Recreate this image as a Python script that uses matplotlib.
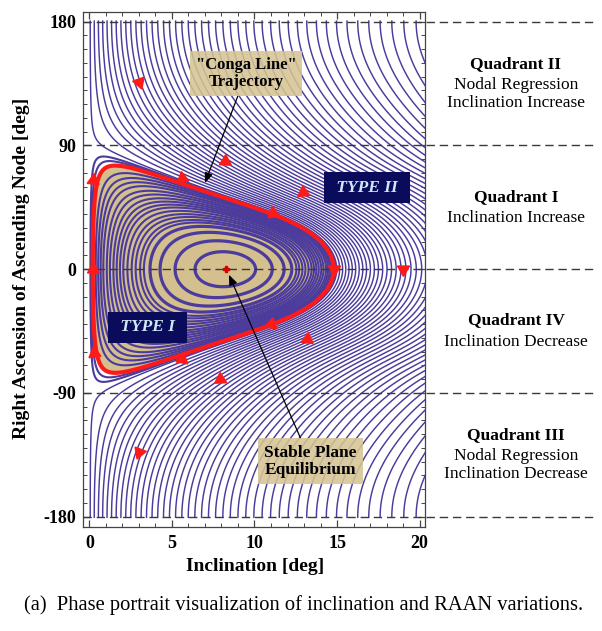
import numpy as np
import matplotlib
matplotlib.use("Agg")
import matplotlib.pyplot as plt

# ---- values ----
I_EQ = 8.3            # stable plane equilibrium inclination [deg]
RAAN_EQ = 0.0         # stable plane equilibrium RAAN [deg]
CONGA_I_MIN = 0.2     # conga-line crossing of RAAN = 0 (inner)
CONGA_I_MAX = 14.8    # conga-line crossing of RAAN = 0 (outer)
ASYM_SCALE = 12.0     # softening scale of the phase-portrait asymmetry

# inner (TYPE I) trajectories: inclination where they cross RAAN = 0 on the left side
oval_left_i = [6.4, 5.19, 4.28, 3.67, 3.3, 3.07, 2.8, 2.56, 2.3, 2.05, 1.85, 1.65,
               1.45, 1.24, 1.05, 0.84, 0.68, 0.53, 0.38]
# TYPE I trajectories lying between the conga line and i = 0
edge_i = [0.12, 0.06]

x_ticks = [0, 5, 10, 15, 20]
y_ticks = [-180, -90, 0, 90, 180]
y_tick_labels = ["-180", "-90", "0", "90", "180"]
quadrant_bounds = [180, 90, 0, -90, -180]
quadrant_centres = [135, 45, -45, -135]
quadrant_titles = ["Quadrant II", "Quadrant I", "Quadrant IV", "Quadrant III"]
quadrant_desc = [["Nodal Regression", "Inclination Increase"],
                 ["Inclination Increase"],
                 ["Inclination Decrease"],
                 ["Nodal Regression", "Inclination Decrease"]]

arrow_incl = [3.0, 8.2, 5.6, 11.1, 0.2, 0.2, 12.95, 14.8, 19.0, 11.0, 5.6, 0.3, 7.9, 13.2, 3.0]
arrow_raan = [136, 79, 66, 41, 65, 0, 56, 0, 0, -40, -65, -61, -80, -51, -133]

# ---- phase-portrait model ----
def g(d):
    return d**3 / (1 + (d / ASYM_SCALE)**2)

def gp(d):
    u = (d / ASYM_SCALE)**2
    return d**2 * (3 + u) / (1 + u)**2

d1 = CONGA_I_MIN - I_EQ
d2 = CONGA_I_MAX - I_EQ
EPS = (d1**2 - d2**2) / (g(d2) - g(d1))

def ham(i, om_deg):
    om = np.radians(om_deg - RAAN_EQ)
    x = i * np.cos(om); y = i * np.sin(om)
    d = x - I_EQ
    return d**2 + y**2 + EPS * g(d)

def field(i, om_deg):
    om = np.radians(om_deg - RAAN_EQ)
    x = i * np.cos(om); y = i * np.sin(om)
    d = x - I_EQ
    dHdx = 2 * d + EPS * gp(d)
    dHdy = 2 * y
    xd = dHdy
    yd = -dHdx
    di = (x * xd + y * yd) / i
    dom = np.degrees((x * yd - y * xd) / i**2)
    return di, dom

serif = ["Liberation Serif", "DejaVu Serif"]
plt.rcParams["font.family"] = serif

# ---- figure ----
W, H = 602, 631
fig = plt.figure(figsize=(W / 100, H / 100), dpi=100)
ax_l, ax_r, ax_t, ax_b = 83, 425, 11.7, 526.7
ax = fig.add_axes([ax_l / W, 1 - ax_b / H, (ax_r - ax_l) / W, (ax_b - ax_t) / H])
XLIM = (-0.39, 20.33)
YLIM = (-187.3, 187.3)
ax.set_xlim(*XLIM)
ax.set_ylim(*YLIM)

LINE_C = "#4b3b9c"
TAN = "#d4bf8e"
RED = "#ff1a1a"

gi = np.linspace(0.0005, 20.4, 900)
go = np.linspace(-181, 181, 1100)
GI, GO = np.meshgrid(gi, go)
HH = ham(GI, GO)
H_RED = ham(CONGA_I_MIN, RAAN_EQ)
ax.contourf(GI, GO, HH, levels=[HH.min() - 1, H_RED], colors=[TAN], zorder=1)

# TYPE I trajectories
lv_in = sorted(ham(np.array(oval_left_i + edge_i), RAAN_EQ))
lw_in = [2.3 if k < 4 else 1.5 for k in range(len(lv_in))]
ax.contour(GI, GO, HH, levels=lv_in, colors=[LINE_C], linewidths=lw_in, zorder=2)

# TYPE II trajectories: spacing of the family grows outward
s = np.sqrt(ham(0.0005, RAAN_EQ)) + 0.04
lv_out = []
s_max = np.sqrt(HH.max())
while s < s_max:
    lv_out.append(s**2)
    s += 0.2 + 0.03 * (s - 7.2)
ax.contour(GI, GO, HH, levels=lv_out, colors=[LINE_C], linewidths=1.05, zorder=2)

ax.contour(GI, GO, HH, levels=[H_RED], colors=[RED], linewidths=3.0, zorder=4)

# dashed quadrant lines extending beyond the frame
x_far = XLIM[0] + (597 - ax_l) / (ax_r - ax_l) * (XLIM[1] - XLIM[0])
for yb in quadrant_bounds:
    ax.plot([XLIM[0], x_far], [yb, yb], color="#3a3a3a", lw=1.0,
            dashes=(6, 3.5), clip_on=False, zorder=3)

# equilibrium point
ax.plot([I_EQ], [RAAN_EQ], marker="P", ms=5, color="#d40000", mec="#d40000", zorder=6)

# red direction arrows (direction from the flow field)
fig.canvas.draw()
for ai, ao in zip(arrow_incl, arrow_raan):
    du, dv = field(np.array(ai), np.array(ao))
    n = np.hypot(du, dv)
    p0 = ax.transData.transform((ai, ao))
    p1 = ax.transData.transform((ai + 0.05 * du / n, ao + 0.05 * dv / n))
    ang = np.degrees(np.arctan2(p1[1] - p0[1], p1[0] - p0[0]))
    ax.plot([ai], [ao], marker=(3, 0, ang - 90), ms=10, color=RED, mec=RED,
            zorder=5, clip_on=False)

# ticks
ax.set_xticks(x_ticks)
ax.set_xticks(np.arange(0, 21, 1), minor=True)
ax.set_yticks(y_ticks)
ax.set_yticklabels(y_tick_labels)
ax.set_yticks(np.arange(-180, 181, 10), minor=True)
ax.tick_params(which="both", direction="in", top=True, right=True, color="#444444")
ax.tick_params(which="major", length=5, width=0.9, labelsize=13, pad=5)
ax.tick_params(which="minor", length=2.8, width=0.7)
ax.tick_params(axis="x", which="major", pad=6)
for lab in ax.get_xticklabels() + ax.get_yticklabels():
    lab.set_fontweight("bold")
    lab.set_family(serif)
for sp in ax.spines.values():
    sp.set_color("#444444")
    sp.set_linewidth(0.9)

# labels
fig.text(255 / W, 1 - 566.7 / H, "Inclination [deg]", ha="center", va="center",
         fontsize=14, fontweight="bold")
fig.text(22 / W, 1 - 268 / H, "Right Ascension of Ascending Node [deg]", ha="center",
         va="center", rotation=90, fontsize=14, fontweight="bold")
fig.text(304 / W, 1 - 605 / H,
         "(a)  Phase portrait visualization of inclination and RAAN variations.",
         ha="center", va="center", fontsize=14.8)

# quadrant descriptions
x_q = XLIM[0] + (516 - ax_l) / (ax_r - ax_l) * (XLIM[1] - XLIM[0])
PX = 72 / 100
for yc, title, desc in zip(quadrant_centres, quadrant_titles, quadrant_desc):
    offs = [0] + [-(21 + 18 * k) for k in range(len(desc))]
    mid = (offs[0] + offs[-1]) / 2
    texts = [title] + desc
    for k, (t, o) in enumerate(zip(texts, offs)):
        ax.annotate(t, xy=(x_q, yc), xytext=(0, (o - mid) * PX), textcoords="offset points",
                    ha="center", va="center", fontsize=12.5,
                    fontweight="bold" if k == 0 else "normal", annotation_clip=False)

# callouts
box_tan = dict(boxstyle="square,pad=0.35", fc="#d6c493", ec="none", alpha=0.88)
ax.annotate('"Conga Line"\nTrajectory', xy=(7.0, 62.7), xytext=(9.5, 142.2),
            ha="center", va="center", fontsize=12, fontweight="bold", bbox=box_tan,
            linespacing=1.1, zorder=7,
            arrowprops=dict(arrowstyle="-|>,head_length=0.5,head_width=0.2", color="black",
                            lw=0.9, shrinkA=0, shrinkB=0))
ax.annotate("Stable Plane\nEquilibrium", xy=(8.45, -4.0), xytext=(13.4, -139.6),
            ha="center", va="center", fontsize=12.5, fontweight="bold", bbox=box_tan,
            linespacing=1.1, zorder=7,
            arrowprops=dict(arrowstyle="-|>,head_length=0.5,head_width=0.2", color="black",
                            lw=0.9, shrinkA=0, shrinkB=0))
box_dark = dict(boxstyle="square,pad=0.45", fc="#0b0b5c", ec="none")
ax.text(3.5, -42.3, " TYPE I ", ha="center", va="center", fontsize=12.5, fontweight="bold",
        style="italic", color="#cfe8f7", bbox=box_dark, zorder=7)
ax.text(16.8, 59.4, " TYPE II ", ha="center", va="center", fontsize=12.5, fontweight="bold",
        style="italic", color="#cfe8f7", bbox=box_dark, zorder=7)

fig.savefig("out.png", dpi=100)
